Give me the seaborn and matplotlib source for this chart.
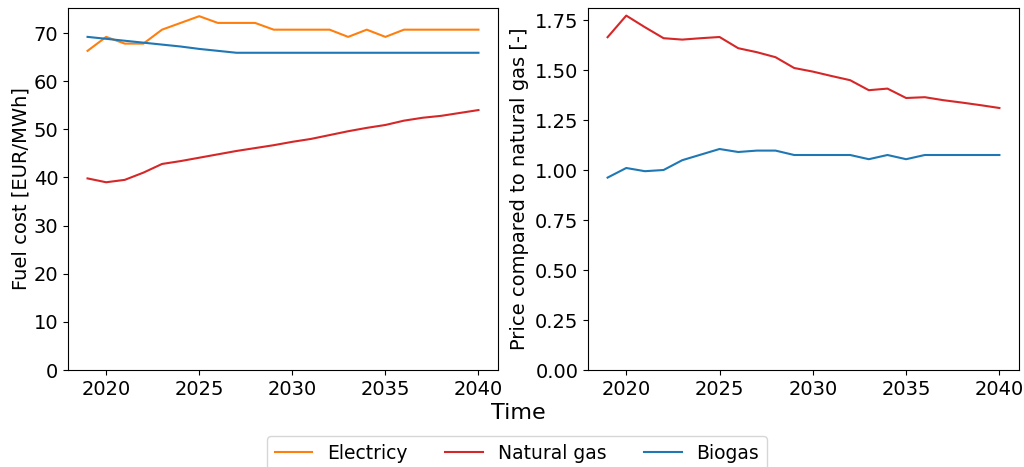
import numpy as np
import pandas as pd
import matplotlib
matplotlib.use("Agg")
import matplotlib.pyplot as plt
import seaborn as sns

years = list(range(2019, 2041))

electricity_cost = [66.3, 69.2, 67.8, 67.8, 70.7, 72.1, 73.5, 72.1, 72.1, 72.1, 70.7,
                    70.7, 70.7, 70.7, 69.2, 70.7, 69.2, 70.7, 70.7, 70.7, 70.7, 70.7]
natural_gas_cost = [39.8, 39.0, 39.5, 41.0, 42.8, 43.4, 44.1, 44.8, 45.5, 46.1, 46.7,
                    47.4, 48.0, 48.8, 49.6, 50.3, 50.9, 51.8, 52.4, 52.8, 53.4, 54.0]
biogas_cost = [69.2, 68.8, 68.4, 68.0, 67.6, 67.2, 66.7, 66.3, 65.9, 65.9, 65.9,
               65.9, 65.9, 65.9, 65.9, 65.9, 65.9, 65.9, 65.9, 65.9, 65.9, 65.9]

ratio_red = [1.664, 1.772, 1.714, 1.659, 1.652, 1.659, 1.665, 1.609, 1.589, 1.564, 1.510,
             1.492, 1.470, 1.449, 1.399, 1.407, 1.360, 1.364, 1.349, 1.337, 1.324, 1.310]
ratio_blue = [0.962, 1.010, 0.994, 1.000, 1.049, 1.077, 1.105, 1.090, 1.097, 1.097, 1.075,
              1.075, 1.075, 1.075, 1.054, 1.075, 1.054, 1.075, 1.075, 1.075, 1.075, 1.075]

series_names = ["Electricy", "Natural gas", "Biogas"]
colors = {"Electricy": "#ff7f0e", "Natural gas": "#d62728", "Biogas": "#1f77b4"}

df_cost = pd.DataFrame({
    "Year": years * 3,
    "Value": electricity_cost + natural_gas_cost + biogas_cost,
    "Series": [series_names[0]] * len(years) + [series_names[1]] * len(years) + [series_names[2]] * len(years),
})
df_ratio = pd.DataFrame({
    "Year": years * 2,
    "Value": ratio_red + ratio_blue,
    "Series": ["Natural gas"] * len(years) + ["Biogas"] * len(years),
})

plt.rcParams['font.family'] = ['DejaVu Sans']
fig = plt.figure(figsize=(10.24, 4.67), dpi=100)
ax1 = fig.add_axes([68/1024, 1 - 370/467, 430/1024, 362/467])
ax2 = fig.add_axes([588/1024, 1 - 370/467, 431/1024, 362/467])

sns.lineplot(data=df_cost, x="Year", y="Value", hue="Series", palette=colors,
             hue_order=series_names, ax=ax1, legend=False, linewidth=1.5)
sns.lineplot(data=df_ratio, x="Year", y="Value", hue="Series", palette=colors,
             hue_order=["Natural gas", "Biogas"], ax=ax2, legend=False, linewidth=1.5)

ax1.set_ylim(0, 75.2)
ax1.set_yticks([0, 10, 20, 30, 40, 50, 60, 70])
ax2.set_ylim(0, 1.81)
ax2.set_yticks([0, 0.25, 0.5, 0.75, 1.0, 1.25, 1.5, 1.75])
ax2.set_yticklabels(["0.00", "0.25", "0.50", "0.75", "1.00", "1.25", "1.50", "1.75"])
for ax in (ax1, ax2):
    ax.set_xlim(2017.95, 2041.05)
    ax.set_xticks([2020, 2025, 2030, 2035, 2040])
    ax.tick_params(labelsize=14)
    ax.set_xlabel("")
ax1.set_ylabel("Fuel cost [EUR/MWh]", fontsize=14, labelpad=2)
ax2.set_ylabel("Price compared to natural gas [-]", fontsize=14)

fig.text(518/1024, 1 - 413/467, "Time", fontsize=16, ha="center", va="center")

handles = [plt.Line2D([], [], color=colors[n], linewidth=1.5) for n in series_names]
fig.legend(handles, series_names, loc="upper center", bbox_to_anchor=(0.505, 1 - 427/467),
           ncol=3, fontsize=13.5, frameon=True)

fig.savefig("out.png", dpi=100)
